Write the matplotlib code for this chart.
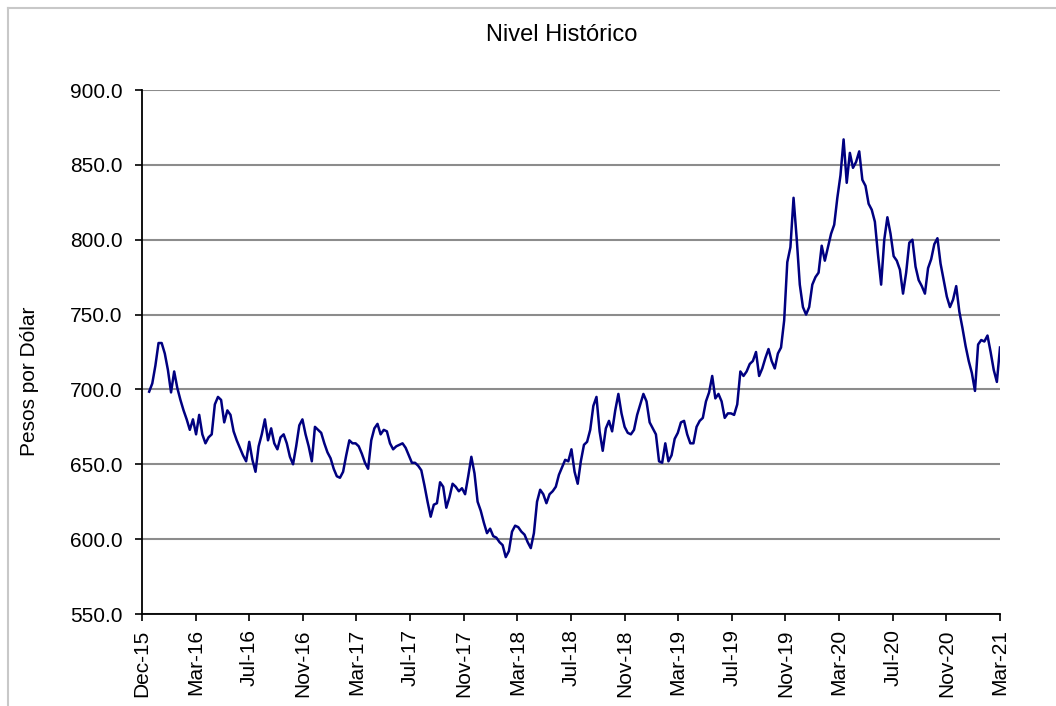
import pandas as pd
import matplotlib
matplotlib.use("Agg")
import matplotlib.pyplot as plt
import matplotlib.dates as mdates
from matplotlib.lines import Line2D

plt.rcParams['font.family'] = ['Liberation Sans', 'DejaVu Sans']

# weekly readings (Thursdays), pesos per dollar
start_date = "2015-12-17"

vals_2016 = [698.5, 704, 716, 731, 731, 724, 713, 698, 712, 701, 693, 686, 680, 673, 680, 670,
             683, 670, 664, 668, 670, 690, 695, 693, 678, 686, 683, 672, 666, 661, 656, 652,
             665, 653, 645, 662, 670, 680, 666, 674, 664, 660, 668, 670, 664, 655, 650, 662,
             676, 680, 670, 662, 652]
vals_2017 = [675, 673, 671, 664, 658, 654, 647, 642, 641, 645, 656, 666, 664, 664, 662, 657,
             651, 647, 666, 674, 677, 670, 673, 672, 664, 660, 662, 663, 664, 661, 656, 651,
             651, 649, 646, 636, 625, 615, 623, 624, 638, 635, 621, 628, 637, 635, 632, 634,
             630, 642, 655, 644]
vals_2018 = [625, 619, 611, 604, 607, 602, 601, 598, 596, 588, 592, 605, 609, 608, 605, 603,
             598, 594, 604, 625, 633, 630, 624, 630, 632, 635, 643, 648, 653, 652, 660, 645,
             637, 652, 663, 665, 673, 689, 695, 672, 659, 674, 679, 672, 686, 697, 684, 675,
             671, 670, 673, 683]
vals_2019 = [690, 697, 692, 678, 674, 670, 652, 651, 664, 652, 656, 667, 671, 678, 679, 670,
             664, 664, 675, 679, 681, 692, 698, 709, 694, 697, 692, 681, 684, 684, 683, 690,
             712, 709, 712, 717, 719, 725, 709, 714, 721, 727, 719, 714, 724, 728, 746, 785,
             795, 828, 801, 770, 755]
vals_2020 = [750, 755, 770, 775, 778, 796, 786, 795, 804, 810, 828, 843, 867, 838, 858, 848,
             852, 859, 840, 836, 824, 820, 812, 790, 770, 800, 815, 804, 789, 786, 780, 764,
             778, 798, 800, 782, 773, 769, 764, 781, 787, 797, 801, 784, 773, 762, 755, 760,
             769, 752, 741, 729]
vals_2021 = [719, 711, 699, 730, 733, 732, 736, 725, 713, 705, 728]

values = vals_2016 + vals_2017 + vals_2018 + vals_2019 + vals_2020 + vals_2021
dates = pd.date_range(start_date, periods=len(values), freq="7D")

tick_start = "2015-12-01"
tick_dates = pd.date_range(tick_start, periods=17, freq="120D")
y_ticks = [550, 600, 650, 700, 750, 800, 850, 900]

fig = plt.figure(figsize=(10.56, 7.06), dpi=100)
ax = fig.add_axes([142 / 1056, 1 - 614 / 706, 858 / 1056, 524 / 706])

ax.plot(dates, values, color="#000080", linewidth=1.8)

ax.set_xlim(tick_dates[0], tick_dates[-1])
ax.set_ylim(550, 900)
ax.set_yticks(y_ticks)
ax.set_yticklabels(["%.1f" % v for v in y_ticks])
ax.set_xticks(tick_dates)
ax.xaxis.set_major_formatter(mdates.DateFormatter("%b-%y"))
ax.yaxis.grid(True, color="#8c8c8c", linewidth=1.5)
ax.set_axisbelow(True)

for s in ["top", "right"]:
    ax.spines[s].set_visible(False)
for s in ["left", "bottom"]:
    ax.spines[s].set_color("black")
    ax.spines[s].set_linewidth(1.3)

ax.tick_params(axis="y", direction="out", length=5, width=1.2, pad=9, labelsize=15)
ax.tick_params(axis="x", direction="out", length=5, width=1.2, pad=6, labelsize=15,
               labelrotation=90)

fig.text(562 / 1056, 1 - 35 / 706, "Nivel Histórico", fontsize=17, ha="center", va="center")
fig.text(30 / 1056, 1 - 381 / 706, "Pesos por Dólar", fontsize=15, rotation=90,
         ha="center", va="center")

# light frame of the chart area
fig.add_artist(Line2D([8 / 1056, 1], [1 - 8 / 706, 1 - 8 / 706], transform=fig.transFigure,
                      color="#c8c8c8", linewidth=1.5))
fig.add_artist(Line2D([8 / 1056, 8 / 1056], [0, 1 - 8 / 706], transform=fig.transFigure,
                      color="#c8c8c8", linewidth=1.5))

fig.savefig("out.png", dpi=100)
